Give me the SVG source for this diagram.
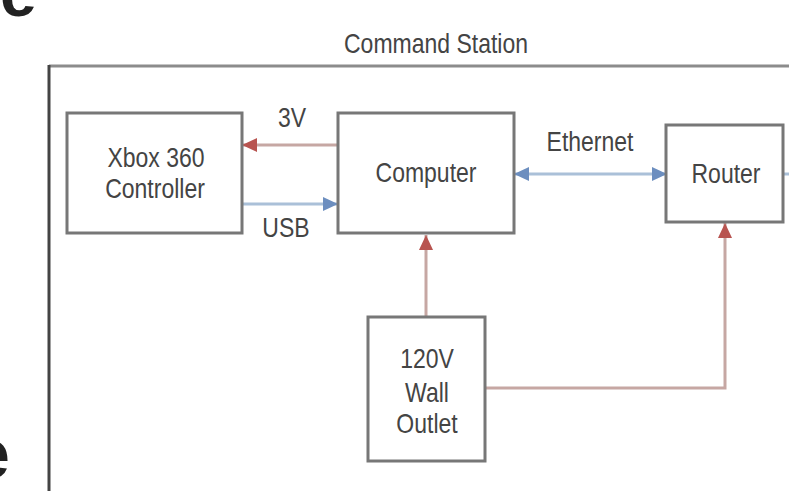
<svg xmlns="http://www.w3.org/2000/svg" width="789" height="491" viewBox="0 0 789 491">
<style>
.box{fill:#ffffff;stroke:#777777;stroke-width:3}
.lbl{font-family:"Liberation Sans",Arial,sans-serif;font-size:23px;fill:#444444;text-anchor:middle}
.red{fill:none;stroke:#c6a7a3;stroke-width:3}
.blue{fill:none;stroke:#aac0d8;stroke-width:3}
.big{font-family:"Liberation Sans",Arial,sans-serif;font-weight:bold;fill:#222222}
</style>
<defs>
<marker id="ar" markerUnits="userSpaceOnUse" markerWidth="16" markerHeight="14" refX="15" refY="7" orient="auto">
<path d="M0,0 L15,7 L0,14 Z" fill="#b85450"/>
</marker>
<marker id="ab" markerUnits="userSpaceOnUse" markerWidth="16" markerHeight="14" refX="15" refY="7" orient="auto">
<path d="M0,0 L15,7 L0,14 Z" fill="#6c8ebf"/>
</marker>
<marker id="abs" markerUnits="userSpaceOnUse" markerWidth="16" markerHeight="14" refX="0" refY="7" orient="auto">
<path d="M15,0 L0,7 L15,14 Z" fill="#6c8ebf"/>
</marker>
</defs>
<rect width="789" height="491" fill="#ffffff"/>
<text class="big" x="0" y="16" font-size="66">e</text>
<text class="big" x="-29" y="478" font-size="70">e</text>
<g id="command-station">
<line x1="49" y1="66" x2="789" y2="66" stroke="#8c8c8c" stroke-width="3"/>
<line x1="49" y1="65" x2="49" y2="491" stroke="#444444" stroke-width="3"/>
<text class="lbl" transform="translate(436 53) scale(1 1.22)">Command Station</text>
</g>
<g id="connectors">
<line class="red" x1="338" y1="145" x2="242" y2="145" marker-end="url(#ar)"/>
<line class="blue" x1="242" y1="204" x2="338" y2="204" marker-end="url(#ab)"/>
<line class="blue" x1="514" y1="174" x2="667" y2="174" marker-start="url(#abs)" marker-end="url(#ab)"/>
<line class="red" x1="426" y1="317" x2="426" y2="235" marker-end="url(#ar)"/>
<polyline class="red" points="485,388 725,388 725,223" marker-end="url(#ar)"/>
<line class="blue" x1="783" y1="174" x2="789" y2="174"/>
<text class="lbl" transform="translate(292 127) scale(1 1.22)">3V</text>
<text class="lbl" transform="translate(286 237) scale(1 1.22)">USB</text>
<text class="lbl" transform="translate(590 151) scale(1 1.22)">Ethernet</text>
</g>
<g id="xbox">
<rect class="box" x="67" y="113" width="175" height="120"/>
<text class="lbl" transform="translate(156 167) scale(1 1.22)">Xbox 360</text>
<text class="lbl" transform="translate(155 198) scale(1 1.22)">Controller</text>
</g>
<g id="computer">
<rect class="box" x="338" y="113" width="176" height="120"/>
<text class="lbl" transform="translate(426 182) scale(1 1.22)">Computer</text>
</g>
<g id="router">
<rect class="box" x="666" y="125" width="117" height="97"/>
<text class="lbl" transform="translate(726 183) scale(1 1.22)">Router</text>
</g>
<g id="outlet">
<rect class="box" x="368" y="317" width="117" height="144"/>
<text class="lbl" transform="translate(427 368) scale(1 1.22)">120V</text>
<text class="lbl" transform="translate(427 402) scale(1 1.22)">Wall</text>
<text class="lbl" transform="translate(427 433) scale(1 1.22)">Outlet</text>
</g>
</svg>
